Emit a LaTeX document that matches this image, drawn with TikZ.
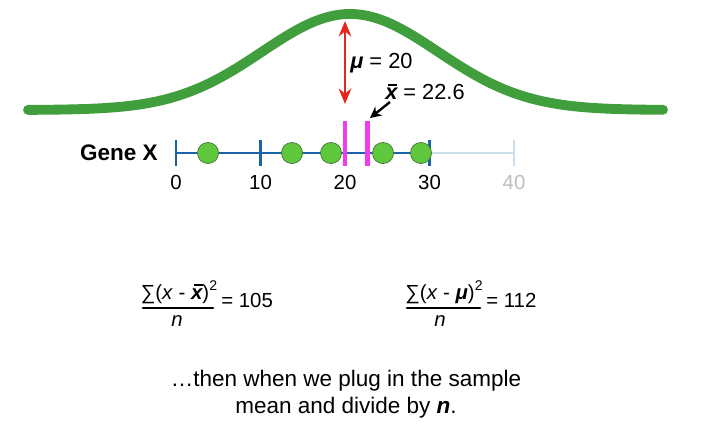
\documentclass[tikz,border=0pt]{standalone}
\usepackage{fontspec}
\setmainfont{Liberation Sans}
\usetikzlibrary{arrows.meta,positioning,calc}
\definecolor{curvegreen}{RGB}{64,158,60}
\definecolor{dotgreen}{RGB}{95,200,60}
\definecolor{dotedge}{RGB}{70,115,60}
\definecolor{axisblue}{RGB}{25,100,170}
\definecolor{axisfade}{RGB}{205,222,235}
\definecolor{meanpink}{RGB}{240,60,240}
\definecolor{arrowred}{RGB}{228,38,28}
\definecolor{labelgray}{RGB}{190,190,190}
\newcommand{\xbarsym}{{\bfseries\itshape\makebox[0pt][l]{\kern0.14em\raisebox{0.64em}{\rule{0.42em}{0.09em}}}x}}
\newcommand{\musym}{{\bfseries\itshape μ}}
\newcommand{\sqsup}{\raisebox{0.45em}{\fontsize{10}{10}\selectfont 2}}

\begin{document}
\begin{tikzpicture}[
    x=0.025cm, y=-0.025cm,
    curve/.style={draw=curvegreen, line width=7pt, line cap=round},
    axisline/.style={draw=axisblue, line width=2pt},
    fadeline/.style={draw=axisfade, line width=2pt},
    dot/.style={circle, draw=dotedge, line width=0.5pt, fill=dotgreen, minimum size=15pt, inner sep=0pt},
    meanbar/.style={draw=meanpink, line width=3.4pt},
    ticklbl/.style={font=\fontsize{14.5}{16}\selectfont, inner sep=0pt},
    label/.style={font=\fontsize{15.5}{18}\selectfont, inner sep=0pt, anchor=west},
    formula/.style={font=\fontsize{14.5}{17}\selectfont, inner sep=0pt},
    fracbar/.style={line width=2pt, line cap=round}
]
    \useasboundingbox (0,0) rectangle (707,447);

    % bell curve
    \draw[curve] plot[domain=28:663, samples=120, smooth] (\x, {110-96*exp(-((\x-350)/88)^2/2)});

    % mean arrows and labels
    \coordinate (mutop) at (345,21);
    \coordinate (mubot) at (345,104);
    \draw[arrowred, line width=1.8pt, {Stealth[length=11pt,width=9pt]}-{Stealth[length=11pt,width=9pt]}] (mubot) -- (mutop);
    \node[label] (mulbl) at (350,63) {\musym{} = 20};
    \node[label] (xbarlbl) at (385,92) {\xbarsym{} = 22.6};
    \coordinate (xbartail) at (390,102);
    \coordinate (xbarhead) at (370,118);
    \draw[line width=1.7pt, -{Stealth[length=8pt,width=8pt]}] (xbartail) -- (xbarhead);

    % number line
    \node[font=\bfseries\fontsize{16}{18}\selectfont, anchor=east, inner sep=0pt] (gene) at (158,153) {Gene X};
    \coordinate (t0) at (176,153);
    \coordinate (t10) at (260.5,153);
    \coordinate (t20) at (345,153);
    \coordinate (t30) at (429.5,153);
    \coordinate (t40) at (514,153);
    \draw[fadeline] (t30) -- (t40);
    \draw[fadeline] ($(t40)+(0,-13)$) -- ($(t40)+(0,13)$);
    \draw[axisline] (t0) -- (t30);
    \foreach \t in {t0,t10,t20,t30}
        \draw[axisline] ($(\t)+(0,-13)$) -- ($(\t)+(0,13)$);
    \node[ticklbl] (l0) at (176,182) {0};
    \node[ticklbl] (l10) at (260.5,182) {10};
    \node[ticklbl] (l20) at (345,182) {20};
    \node[ticklbl] (l30) at (429.5,182) {30};
    \node[ticklbl, text=labelgray] (l40) at (514,182) {40};

    % data points
    \node[dot] (d1) at (208,153) {};
    \node[dot] (d2) at (292,153) {};
    \node[dot] (d3) at (331,153) {};
    \node[dot] (d4) at (383,153) {};
    \node[dot] (d5) at (421,153) {};

    % mu and sample mean
    \draw[meanbar] (345,121) -- (345,166);
    \draw[meanbar] (367.5,121) -- (367.5,166);

    % formulas
    \node[formula] (numL) at (179,292) {∑(\textit{x} - \xbarsym)\sqsup};
    \draw[fracbar] (143,308) -- (213,308);
    \node[formula] (denL) at (177,321) {\textit{n}};
    \node[formula, anchor=west] (valL) at (221,300) {= 105};

    \node[formula] (numR) at (444,292) {∑(\textit{x} - \musym)\sqsup};
    \draw[fracbar] (407,308) -- (480,308);
    \node[formula] (denR) at (440,321) {\textit{n}};
    \node[formula, anchor=west] (valR) at (486,300) {= 112};

    % caption
    \node[font=\fontsize{16}{19.5}\selectfont, align=center] (caption) at (346,394)
        {…then when we plug in the sample\\mean and divide by \textbf{\textit{n}}.};
\end{tikzpicture}
\end{document}
